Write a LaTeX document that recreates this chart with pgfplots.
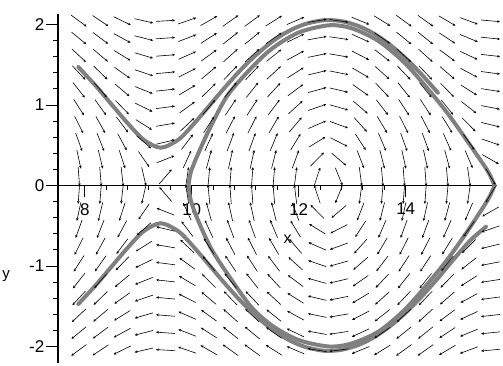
\documentclass[border=0pt]{standalone}
\usepackage{fontspec}
\setmainfont{Liberation Sans}
\usepackage{pgfplots}
\usepackage{pgfplotstable}
\pgfplotsset{compat=1.18}
\usetikzlibrary{arrows.meta}

% Pendulum field x' = y, y' = -sin(x): one row per grid column,
% v = -sin(x) at the column's abscissa.
\pgfplotstableread{
x      v
7.890  -0.9994
8.295  -0.9043
8.700  -0.6630
9.105  -0.3144
9.510   0.0851
9.915   0.4708
10.320  0.7803
10.725  0.9637
11.130  0.9910
11.535  0.8581
11.940  0.5862
12.345  0.2196
12.750 -0.1826
13.155 -0.5552
13.560 -0.8380
13.965 -0.9852
14.370 -0.9730
14.775 -0.8034
15.180 -0.5038
15.585 -0.1227
}\fieldcols

% rotating trajectory, upper branch
\pgfplotstableread{
x y
7.88 1.472
8.2 1.242
8.5 1.008
8.8 0.775
9.1 0.569
9.42 0.469
9.75 0.569
10.0 0.736
10.3 0.968
10.6 1.203
10.9 1.425
11.2 1.620
11.5 1.786
11.8 1.914
12.1 2.001
12.4 2.047
12.57 2.054
12.8 2.041
13.1 1.985
13.4 1.888
13.7 1.751
14.0 1.579
14.3 1.377
14.6 1.152
}\outerup

% rotating trajectory, lower branch
\pgfplotstableread{
x y
7.88 -1.472
8.2 -1.242
8.5 -1.008
8.8 -0.775
9.1 -0.569
9.42 -0.469
9.75 -0.569
10.0 -0.736
10.3 -0.968
10.6 -1.203
10.9 -1.425
11.2 -1.620
11.5 -1.786
11.8 -1.914
12.1 -2.001
12.4 -2.047
12.57 -2.054
12.8 -2.041
13.1 -1.985
13.4 -1.888
13.7 -1.751
14.0 -1.579
14.3 -1.377
14.6 -1.152
14.9 -0.914
15.2 -0.687
15.5 -0.512
}\outerdown

% closed orbit near the separatrix
\pgfplotstableread{
x y
9.94 0.0
9.98 0.16
10.11 0.38
10.36 0.74
10.67 1.12
11.1 1.45
11.5 1.70
12.0 1.90
12.57 1.99
13.0 1.95
13.5 1.79
14.0 1.51
14.5 1.13
14.8 0.88
15.1 0.60
15.35 0.36
15.55 0.16
15.66 0.0
}\loopup

\pgfplotstableread{
x y
9.94 0.0
9.98 -0.18
10.11 -0.42
10.36 -0.78
10.67 -1.10
11.1 -1.50
11.5 -1.74
12.0 -1.92
12.57 -2.00
13.0 -1.96
13.5 -1.81
14.0 -1.53
14.5 -1.15
14.8 -0.90
15.1 -0.62
15.35 -0.37
15.55 -0.16
15.66 0.0
}\loopdown

\def\LL{19}

\begin{document}
\begin{tikzpicture}
\path[use as bounding box] (-58pt,-1.6pt) rectangle (445pt,363.4pt);
\begin{axis}[
  scale only axis, width=438.7pt, height=349.0pt,
  xmin=7.5, xmax=15.7, ymin=-2.21, ymax=2.125,
  axis x line=middle, axis y line=left,
  axis line style={-, line width=1.4pt},
  xtick={8,10,12,14}, xticklabels={8,10,12,14},
  ytick={-2,-1,0,1,2}, yticklabels={-2,-1,0,1,2},
  minor x tick num=4, minor y tick num=4,
  tick align=outside,
  major tick length=12pt, minor tick length=5pt,
  every tick/.style={black, line width=0.9pt},
  ticklabel style={font=\fontsize{17}{17}\selectfont, inner sep=1.5pt},
  xticklabel style={yshift=-4pt},
  clip=false,
  declare function={nn(\a,\b)=sqrt((53.5*(\a))^2+(80.5*(\b))^2);},
]
\addplot[black!50, line width=4pt, smooth, line cap=round] table {\outerup};
\addplot[black!50, line width=4pt, smooth, line cap=round] table {\outerdown};
\addplot[black!50, line width=4pt, smooth, line cap=round] table {\loopup};
\addplot[black!50, line width=4pt, smooth, line cap=round] table {\loopdown};

\pgfplotsinvokeforeach{-2.045,-1.83,-1.615,-1.40,-1.185,-0.97,-0.755,-0.54,-0.325,-0.11,0.11,0.325,0.54,0.755,0.97,1.185,1.40,1.615,1.83,2.045}{
  \addplot[black, line width=0.6pt, -{Stealth[length=2.8pt,width=2.6pt]},
    quiver={u={\LL*(#1)/nn(#1,\thisrow{v})}, v={\LL*\thisrow{v}/nn(#1,\thisrow{v})}}]
    table[x expr={\thisrow{x}-0.5*\LL*(#1)/nn(#1,\thisrow{v})},
          y expr={#1-0.5*\LL*\thisrow{v}/nn(#1,\thisrow{v})}] {\fieldcols};
}

\node[font=\fontsize{16}{16}\selectfont, anchor=base] at (axis cs:11.79,-0.72) {x};
\node[font=\fontsize{15}{15}\selectfont, anchor=base] at (axis cs:6.53,-1.16) {y};
\end{axis}
\end{tikzpicture}
\end{document}
